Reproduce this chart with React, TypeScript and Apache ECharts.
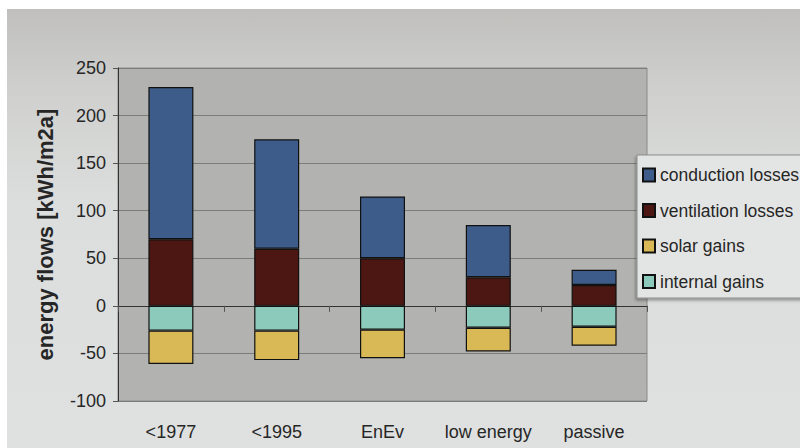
import React, { useEffect, useRef } from "react";
import * as echarts from "echarts";

// Building standards compared in the chart
const categories = ["<1977", "<1995", "EnEv", "low energy", "passive"];

// Energy flows in kWh/m²a; losses positive, gains negative
const conductionLosses = [160, 115, 65, 55, 16];
const ventilationLosses = [70, 60, 50, 30, 22];
const internalGains = [-26, -26, -25, -23, -22];
const solarGains = [-35, -31, -30, -25, -20];

const legendOrder = ["conduction losses", "ventilation losses", "solar gains", "internal gains"];
const yTicks = { min: -100, max: 250, step: 50 };

const FONT = "'Liberation Sans', Arial, sans-serif";
const TEXT = "#262626";

export default function App() {
  const ref = useRef<HTMLDivElement>(null);

  useEffect(() => {
    if (!ref.current) return;
    const chart = echarts.init(ref.current, undefined, { renderer: "svg" });

    const bar = (name: string, data: number[], color: string) => ({
      name,
      type: "bar",
      stack: "flows",
      data,
      barWidth: 45,
      itemStyle: { color, borderColor: "#111", borderWidth: 1.2 },
      emphasis: { disabled: true },
    });

    chart.setOption({
      animation: false,
      grid: {
        left: 118,
        right: 153,
        top: 68,
        bottom: 47,
        show: true,
        backgroundColor: "#b2b2b0",
        borderColor: "#8a8a88",
        borderWidth: 1,
      },
      xAxis: {
        type: "category",
        data: categories,
        axisLine: { show: true, lineStyle: { color: "#333", width: 1 } },
        axisTick: { show: true, length: 6, lineStyle: { color: "#555" } },
        axisLabel: { color: TEXT, fontFamily: FONT, fontSize: 18, margin: 22, interval: 0 },
        splitLine: { show: false },
      },
      yAxis: {
        type: "value",
        min: yTicks.min,
        max: yTicks.max,
        interval: yTicks.step,
        name: "energy flows [kWh/m2a]",
        nameLocation: "middle",
        nameGap: 62,
        nameTextStyle: {
          color: TEXT,
          fontFamily: FONT,
          fontWeight: "bold",
          fontSize: 22,
        },
        axisLine: { show: true, lineStyle: { color: "#333", width: 1 } },
        axisTick: { show: true, length: 5, lineStyle: { color: "#555" } },
        axisLabel: { color: TEXT, fontFamily: FONT, fontSize: 18, margin: 12 },
        splitLine: { show: true, lineStyle: { color: "#7c7c7a", width: 1 } },
      },
      legend: {
        data: legendOrder,
        orient: "vertical",
        left: 642,
        top: 166,
        padding: 0,
        itemWidth: 12,
        itemHeight: 13,
        itemGap: 17.5,
        icon: "rect",
        selectedMode: false,
        textStyle: { color: TEXT, fontFamily: FONT, fontSize: 17.5 },
      },
      graphic: [
        {
          type: "rect",
          z: 3,
          shape: { x: 637, y: 155, width: 200, height: 143 },
          style: {
            fill: "#e3e5e4",
            stroke: "#8c8c8c",
            lineWidth: 1,
            shadowBlur: 3,
            shadowOffsetX: -1,
            shadowOffsetY: 2,
            shadowColor: "rgba(0,0,0,0.35)",
          },
        },
      ],
      series: [
        bar("internal gains", internalGains, "#8ccabb"),
        bar("solar gains", solarGains, "#d9b955"),
        bar("ventilation losses", ventilationLosses, "#4c1712"),
        bar("conduction losses", conductionLosses, "#3d5c8a"),
      ],
    });

    return () => chart.dispose();
  }, []);

  return (
    <div style={{ position: "fixed", left: 0, top: 0, width: 800, height: 448, background: "#ffffff" }}>
      <div
        style={{
          position: "absolute",
          left: 7,
          top: 9,
          width: 793,
          height: 439,
          background: "linear-gradient(180deg, #c0bfbc 0%, #cfd0ce 18%, #dcdedd 45%, #dfe1e0 100%)",
        }}
      />
      <div ref={ref} style={{ position: "absolute", left: 0, top: 0, width: 800, height: 448 }} />
    </div>
  );
}
